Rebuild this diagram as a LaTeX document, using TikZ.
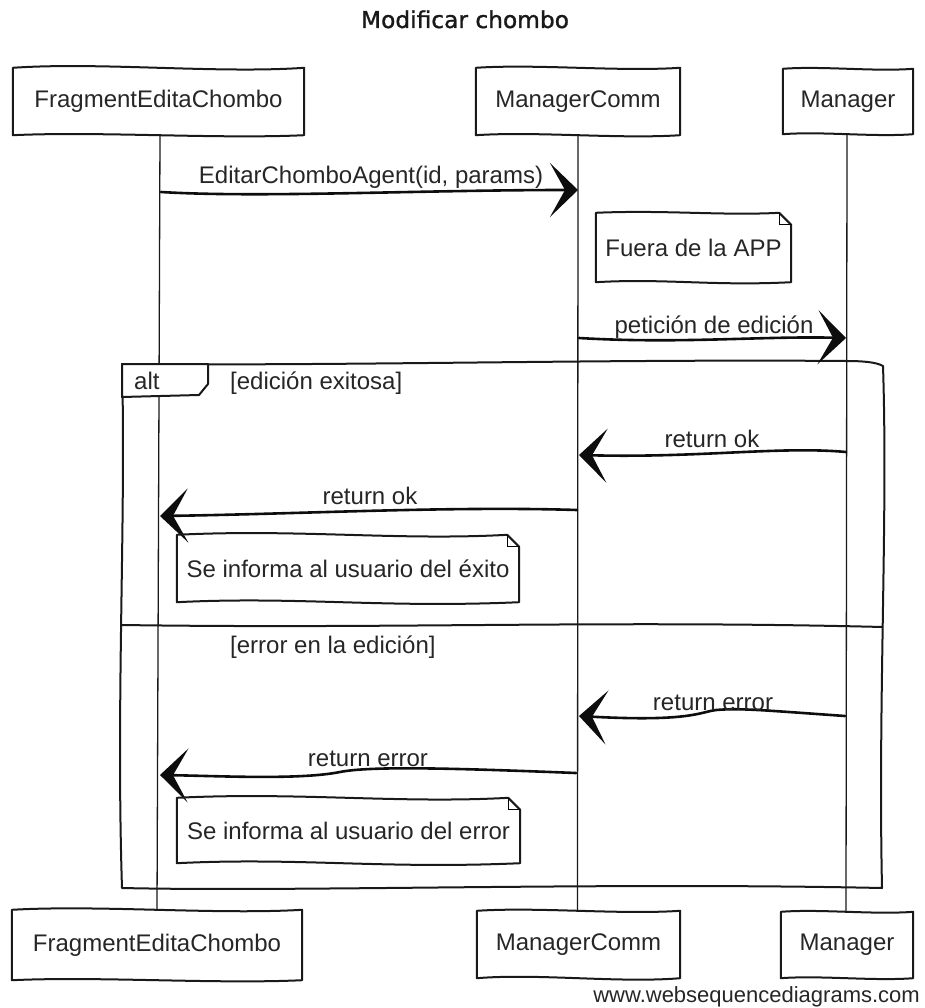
\documentclass[tikz,border=0pt]{standalone}
\usepackage{fontspec}
\setmainfont{Liberation Sans}
\newfontfamily\titlefont[FakeBold=1.2]{DejaVu Sans}
\usetikzlibrary{arrows.meta,calc}

% wavy box border around a node: #1 node, #2 top wave, #3 bottom wave
\newcommand{\wavyrect}[3]{%
  \draw[boxline] (#1.north west)
    .. controls ($(#1.north west)!0.3!(#1.north east)+(0,-#2)$) and ($(#1.north west)!0.7!(#1.north east)+(0,#2)$) .. (#1.north east)
    -- (#1.south east)
    .. controls ($(#1.south west)!0.7!(#1.south east)+(0,#3)$) and ($(#1.south west)!0.3!(#1.south east)+(0,-#3)$) .. (#1.south west)
    -- cycle;}
% note with dog-ear
\newcommand{\wavynote}[3]{%
  \draw[boxline] (#1.north west)
    .. controls ($(#1.north west)!0.35!(#1.north east)+(0,#2)$) and ($(#1.north west)!0.65!(#1.north east)+(0,-#2)$) .. ($(#1.north east)+(-12,0)$)
    -- ($(#1.north east)+(0,12)$)
    -- (#1.south east)
    .. controls ($(#1.south west)!0.6!(#1.south east)+(0,#3)$) and ($(#1.south west)!0.35!(#1.south east)+(0,-#3)$) .. (#1.south west)
    -- cycle;
  \draw[line width=1pt] ($(#1.north east)+(-12,0)$) -- ($(#1.north east)+(-12,12)$) -- ($(#1.north east)+(0,12)$);}

\begin{document}
\begin{tikzpicture}[x=1pt,y=-1pt,
  txt/.style={font=\fontsize{24}{28}\selectfont, text=black!85},
  participant/.style={txt, inner sep=0pt, draw=none},
  boxline/.style={line width=2pt, line join=round, line cap=round, black!90},
  lifeline/.style={line width=1.3pt, black!90},
  framelinestyle/.style={line width=2pt, line join=round, black!90},
  msg/.style={line width=2.6pt, line cap=round, black!95, -{Stealth[length=28pt,width=54pt,inset=15pt]}},
  lbl/.style={txt, inner sep=0pt, anchor=base},
  guardlbl/.style={txt, inner sep=0pt, anchor=base west},
  notebox/.style={txt, inner sep=0pt, draw=none}]

\useasboundingbox (0,0) rectangle (924,1008);

% title
\node[inner sep=0pt, anchor=base, font=\titlefont\fontsize{23.3}{28}\selectfont, text=black!90] (title) at (465,28) {Modificar chombo};

% participants (top)
\node[participant, minimum width=291pt, minimum height=67pt] (ft) at (158.5,101.5) {FragmentEditaChombo};
\node[participant, minimum width=204pt, minimum height=67pt] (mct) at (578,101.5) {ManagerComm};
\node[participant, minimum width=130pt, minimum height=65pt] (mt) at (848,101.5) {Manager};
% participants (bottom)
\node[participant, minimum width=290pt, minimum height=70pt] (fb) at (157,945) {FragmentEditaChombo};
\node[participant, minimum width=203pt, minimum height=67pt] (mcb) at (578.5,944.5) {ManagerComm};
\node[participant, minimum width=132pt, minimum height=66pt] (mb) at (847,945) {Manager};

% lifelines
\draw[lifeline] ([xshift=1.5pt]ft.south) -- (fb.north);
\draw[lifeline] (mct.south) -- ([xshift=-1pt]mcb.north);
\draw[lifeline] ([xshift=-1pt]mt.south) -- ([xshift=-1pt]mb.north);

% participant borders
\wavyrect{ft}{6}{4}
\wavyrect{mct}{4}{4}
\wavyrect{mt}{3}{3}
\wavyrect{fb}{5}{4}
\wavyrect{mcb}{4}{5}
\wavyrect{mb}{3}{3}

% alt frame
\coordinate (frnw) at (122,364);
\coordinate (frne) at (883,366);
\coordinate (frse) at (882,888);
\coordinate (frsw) at (122,888);
\draw[framelinestyle] (frnw) .. controls (350,366) and (600,359) .. (846,361)
  .. controls (862,361) and (876,362) .. (frne)
  .. controls (888,520) and (878,700) .. (frse)
  .. controls (600,882) and (300,892) .. (frsw)
  .. controls (116,700) and (126,520) .. (frnw) -- cycle;
\coordinate (dvw) at (122,625);
\coordinate (dve) at (883,627);
\draw[framelinestyle] (dvw) .. controls (400,629) and (600,620) .. (dve);
% alt tab
\draw[framelinestyle, fill=white] (frnw) -- (208,364) -- (208,384) -- (199,395) -- (122,397) -- cycle;
\node[guardlbl] (altlbl) at (134,389) {alt};
\node[guardlbl] (g1) at (230,389) {[edición exitosa]};
\node[guardlbl] (g2) at (230,653) {[error en la edición]};

% message 1
\coordinate (m1a) at (161,192);
\coordinate (m1b) at (578,190);
\draw[msg] (m1a) .. controls (260,198) and (420,190) .. (m1b);
\node[lbl] (l1) at (371,184) {EditarChomboAgent(id, params)};

% note 1
\node[notebox, minimum width=195pt, minimum height=69pt] (n1) at (693.5,247.5) {Fuera de la APP};
\wavynote{n1}{-3}{4}

% message 2
\coordinate (m2a) at (579,338);
\coordinate (m2b) at (846,338);
\draw[msg] (m2a) .. controls (680,344) and (760,336) .. (m2b);
\node[lbl] (l2) at (714,333) {petición de edición};

% message 3
\coordinate (m3a) at (846,452);
\coordinate (m3b) at (579,455);
\draw[msg] (m3a) .. controls (780,446) and (700,458) .. (m3b);
\node[lbl] (l3) at (712,447) {return ok};

% message 4
\coordinate (m4a) at (577,510);
\coordinate (m4b) at (160,516);
\draw[msg] (m4a) .. controls (450,506) and (300,514) .. (m4b);
\node[lbl] (l4) at (370,504) {return ok};

% note 2
\node[notebox, minimum width=342pt, minimum height=67pt] (n2) at (348,568.5) {Se informa al usuario del éxito};
\wavynote{n2}{-6}{6}

% message 5
\coordinate (m5a) at (845,716);
\coordinate (m5b) at (579,716);
\draw[msg] (m5a) .. controls (760,710) and (740,708) .. (716,710)
  .. controls (700,712) and (690,722) .. (m5b);
\node[lbl] (l5) at (713,710) {return error};

% message 6
\coordinate (m6a) at (576,773);
\coordinate (m6b) at (160,775);
\draw[msg] (m6a) .. controls (450,768) and (370,766) .. (340,772)
  .. controls (300,780) and (220,776) .. (m6b);
\node[lbl] (l6) at (368,766) {return error};

% note 3
\node[notebox, minimum width=343pt, minimum height=65pt] (n3) at (348.5,830.5) {Se informa al usuario del error};
\wavynote{n3}{-6}{6}

% watermark
\node[inner sep=0pt, anchor=base east, font=\fontsize{22}{26}\selectfont, text=black!85] (wm) at (920,1002) {www.websequencediagrams.com};
\end{tikzpicture}
\end{document}
